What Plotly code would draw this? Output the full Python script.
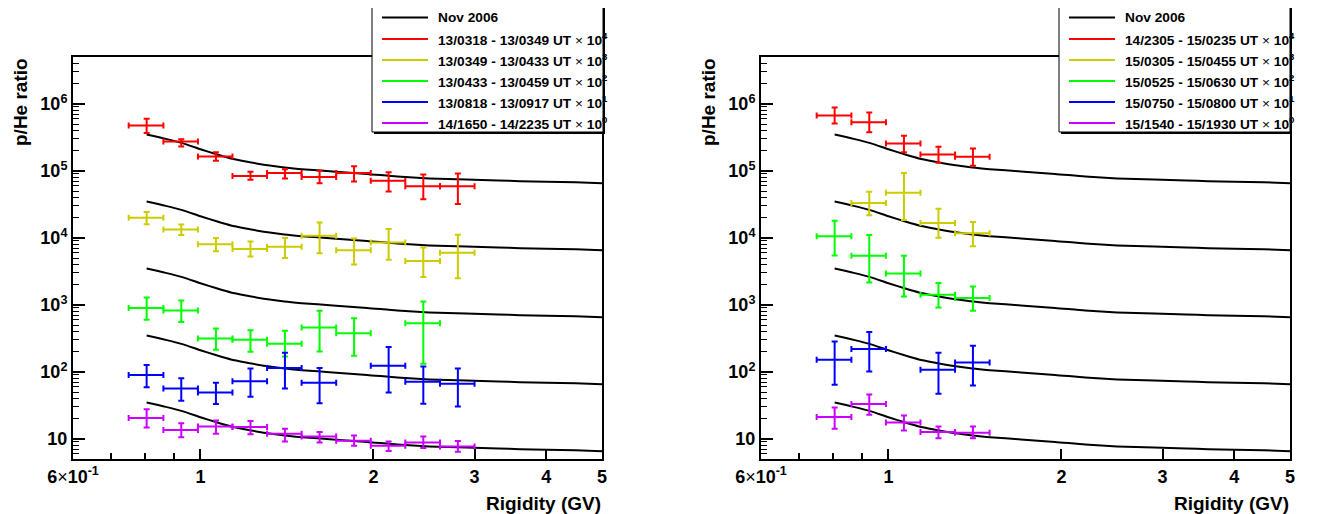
import math
import plotly.graph_objects as go

# page is 1333x514; the html body adds an 8 px margin at top-left
PAGE_W, PAGE_H, BODY_M = 1333, 514, 8
W, H = PAGE_W - BODY_M, PAGE_H - BODY_M

# ---------------- data ----------------
BIN_LO = [0.750, 0.862, 0.990, 1.137, 1.306, 1.500, 1.723, 1.979, 2.273, 2.612]
BIN_HI = [0.862, 0.990, 1.137, 1.306, 1.500, 1.723, 1.979, 2.273, 2.612, 3.000]
BIN_C = [0.806, 0.926, 1.064, 1.222, 1.403, 1.612, 1.851, 2.126, 2.443, 2.806]

# Nov 2006 reference curve (unscaled)
NOV_X = [0.806, 0.87, 0.93, 1.0, 1.07, 1.13, 1.2, 1.3, 1.4, 1.5, 1.7, 1.95, 2.2, 2.5, 2.9, 3.3, 3.6, 4.0, 4.5, 5.0]
NOV_Y = [34.8, 30.0, 25.9, 21.0, 17.5, 15.3, 13.8, 12.2, 11.2, 10.6, 9.8, 9.0, 8.2, 7.7, 7.4, 7.2, 7.0, 6.9, 6.75, 6.55]

SCALES = [1e4, 1e3, 1e2, 1e1, 1e0]
SCALE_EXP = ["4", "3", "2", "1", "0"]
COLORS = ["#ff0000", "#cccc00", "#00ff00", "#0000ff", "#cc00ff"]

# Left panel (unscaled values, upper and lower error limits)
L_LABELS = ["13/0318 - 13/0349 UT", "13/0349 - 13/0433 UT", "13/0433 - 13/0459 UT",
            "13/0818 - 13/0917 UT", "14/1650 - 14/2235 UT"]
L_RED_Y = [47.4, 27.4, 16.3, 8.4, 9.25, 8.06, 9.25, 7.1, 5.9, 5.9]
L_RED_HI = [59.7, 29.6, 19.0, 9.66, 10.6, 10.0, 11.7, 9.55, 8.8, 9.1]
L_RED_LO = [36.6, 23.1, 14.1, 7.35, 7.68, 6.55, 6.92, 4.9, 3.78, 3.2]
L_YEL_Y = [19.9, 13.3, 8.05, 6.8, 7.35, 10.7, 6.5, 8.5, 4.5, 6.0]
L_YEL_HI = [24.4, 15.8, 9.9, 8.8, 9.9, 16.9, 9.8, 13.6, 7.2, 11.1]
L_YEL_LO = [16.0, 11.0, 6.3, 5.25, 5.0, 5.9, 4.0, 4.7, 2.6, 2.5]
L_GRN_Y = [8.93, 8.22, 3.14, 3.0, 2.62, 4.58, 3.78, None, 5.33, None]
L_GRN_HI = [12.85, 11.6, 4.43, 4.19, 4.09, 8.13, 6.31, None, 11.2, None]
L_GRN_LO = [5.97, 5.52, 2.13, 1.99, 1.70, 2.01, 1.74, None, 1.32, None]
L_BLU_Y = [8.93, 5.63, 4.91, 7.26, 11.36, 6.85, None, 12.3, 7.1, 6.62]
L_BLU_HI = [12.7, 8.05, 6.85, 11.2, 19.2, 11.36, None, 23.4, 12.0, 11.2]
L_BLU_LO = [5.9, 3.69, 3.3, 4.24, 5.63, 3.41, None, 4.9, 3.33, 3.03]
L_MAG_Y = [20.5, 13.5, 15.3, 15.0, 11.9, 10.8, 9.4, 7.9, 8.8, 7.7]
L_MAG_HI = [27.7, 17.1, 18.8, 18.4, 14.1, 12.7, 11.2, 9.1, 10.8, 9.3]
L_MAG_LO = [14.8, 10.6, 11.9, 11.7, 9.1, 8.8, 7.9, 6.6, 7.3, 6.4]

# Right panel
R_LABELS = ["14/2305 - 15/0235 UT", "15/0305 - 15/0455 UT", "15/0525 - 15/0630 UT",
            "15/0750 - 15/0800 UT", "15/1540 - 15/1930 UT"]
R_RED_Y = [66.8, 53.3, 25.5, 17.5, 16.2]
R_RED_HI = [88.0, 74.0, 33.3, 22.8, 21.5]
R_RED_LO = [50.8, 37.8, 19.0, 13.2, 11.9]
R_YEL_Y = [None, 33.0, 47.0, 16.7, 11.7]
R_YEL_HI = [None, 48.6, 93.0, 27.1, 17.2]
R_YEL_LO = [None, 21.8, 18.4, 10.0, 7.5]
R_GRN_Y = [106.0, 54.0, 29.3, 14.1, 12.7]
R_GRN_HI = [180.0, 110.0, 54.0, 21.1, 18.7]
R_GRN_LO = [54.5, 21.5, 13.3, 9.12, 8.13]
R_BLU_Y = [15.1, 22.0, None, 10.7, 13.8]
R_BLU_HI = [28.3, 39.2, None, 19.2, 24.5]
R_BLU_LO = [6.4, 10.1, None, 4.7, 6.25]
R_MAG_Y = [21.1, 33.0, 17.5, 12.6, 12.3]
R_MAG_HI = [29.3, 45.8, 22.3, 15.3, 15.3]
R_MAG_LO = [14.1, 22.8, 13.3, 10.2, 10.2]

LEFT_SERIES = [(L_RED_Y, L_RED_HI, L_RED_LO), (L_YEL_Y, L_YEL_HI, L_YEL_LO),
               (L_GRN_Y, L_GRN_HI, L_GRN_LO), (L_BLU_Y, L_BLU_HI, L_BLU_LO),
               (L_MAG_Y, L_MAG_HI, L_MAG_LO)]
RIGHT_SERIES = [(R_RED_Y, R_RED_HI, R_RED_LO), (R_YEL_Y, R_YEL_HI, R_YEL_LO),
                (R_GRN_Y, R_GRN_HI, R_GRN_LO), (R_BLU_Y, R_BLU_HI, R_BLU_LO),
                (R_MAG_Y, R_MAG_HI, R_MAG_LO)]

X_TICKS = [0.6, 1, 2, 3, 4, 5]
X_TICKTEXT = ["<b>6</b>×<b>10<sup>-1</sup></b>", "<b>1</b>", "<b>2</b>", "<b>3</b>", "<b>4</b>", "<b>5</b>"]
X_MINOR = [0.7, 0.8, 0.9]
Y_TICKS = [10, 1e2, 1e3, 1e4, 1e5, 1e6]
Y_TICKTEXT = ["<b>10</b>", "<b>10<sup>2</sup></b>", "<b>10<sup>3</sup></b>",
              "<b>10<sup>4</sup></b>", "<b>10<sup>5</sup></b>", "<b>10<sup>6</sup></b>"]

# ---------------- layout geometry (page pixels) ----------------
PANELS = [
    dict(x0=73, x1=602, leg=(372, 603), labels=L_LABELS, series=LEFT_SERIES, xa="x", ya="y"),
    dict(x0=761, x1=1290, leg=(1059, 1290), labels=R_LABELS, series=RIGHT_SERIES, xa="x2", ya="y2"),
]
PLOT_TOP, PLOT_BOT = 57, 459


def px(x):
    return (x - BODY_M) / W


def py(y):
    return 1 - (y - BODY_M) / H


FONT = "Liberation Sans, Arial, sans-serif"
fig = go.Figure()
shapes = []
annotations = []

for p in PANELS:
    # reference curves
    for k, sc in enumerate(SCALES):
        fig.add_trace(go.Scatter(
            x=NOV_X, y=[v * sc for v in NOV_Y], mode="lines",
            line=dict(color="black", width=2, shape="spline", smoothing=0.6),
            xaxis=p["xa"], yaxis=p["ya"], showlegend=False, hoverinfo="skip"))
    # data points
    for k, (ys, hi, lo) in enumerate(p["series"]):
        sc = SCALES[k]
        xs, yv, ep, em, exp_, exm = [], [], [], [], [], []
        for i, v in enumerate(ys):
            if v is None:
                continue
            xs.append(BIN_C[i])
            yv.append(v * sc)
            ep.append((hi[i] - v) * sc)
            em.append((v - lo[i]) * sc)
            exp_.append(BIN_HI[i] - BIN_C[i])
            exm.append(BIN_C[i] - BIN_LO[i])
        fig.add_trace(go.Scatter(
            x=xs, y=yv, mode="markers", marker=dict(size=1, color=COLORS[k]),
            error_y=dict(type="data", symmetric=False, array=ep, arrayminus=em,
                         color=COLORS[k], thickness=2, width=3),
            error_x=dict(type="data", symmetric=False, array=exp_, arrayminus=exm,
                         color=COLORS[k], thickness=2, width=3),
            xaxis=p["xa"], yaxis=p["ya"], showlegend=False))

    # legend box
    lx0, lx1 = p["leg"]
    ly0, ly1 = 5, 132
    shapes.append(dict(type="rect", xref="paper", yref="paper",
                       x0=px(lx0 + 2), x1=px(lx1 + 2), y0=py(ly1 + 2), y1=py(ly0 + 2),
                       line=dict(width=0), fillcolor="black", layer="above"))
    shapes.append(dict(type="rect", xref="paper", yref="paper",
                       x0=px(lx0), x1=px(lx1), y0=py(ly1), y1=py(ly0),
                       line=dict(width=1, color="black"), fillcolor="white", layer="above"))
    rows_y = [17.5, 39, 60, 81, 102, 123]
    entries = [("black", "<b>Nov 2006</b>")] + [
        (COLORS[k], "<b>%s</b> × <b>10<sup>%s</sup></b>" % (p["labels"][k], SCALE_EXP[k]))
        for k in range(5)]
    for (col, txt), ry in zip(entries, rows_y):
        shapes.append(dict(type="line", xref="paper", yref="paper",
                           x0=px(lx0 + 10), x1=px(lx0 + 56), y0=py(ry), y1=py(ry),
                           line=dict(color=col, width=2), layer="above"))
        annotations.append(dict(xref="paper", yref="paper", x=px(lx0 + 64), y=py(ry),
                                xanchor="left", yanchor="middle", showarrow=False,
                                text=txt, font=dict(family=FONT, size=13.7, color="black")))

    # axis titles
    annotations.append(dict(xref="paper", yref="paper", x=px(p["x1"] + 1), y=py(503),
                            xanchor="right", yanchor="middle", showarrow=False,
                            text="<b>Rigidity (GV)</b>",
                            font=dict(family=FONT, size=19, color="black")))
    annotations.append(dict(xref="paper", yref="paper", x=px(p["x0"] - 53), y=py(102),
                            xanchor="center", yanchor="middle", showarrow=False,
                            textangle=-90, text="<b>p/He ratio</b>",
                            font=dict(family=FONT, size=19, color="black")))

axis_common = dict(showgrid=False, zeroline=False, showline=True, linecolor="black",
                   linewidth=2, mirror=True, ticks="inside", tickcolor="black",
                   automargin=False)

for idx, p in enumerate(PANELS):
    sfx = "" if idx == 0 else str(idx + 1)
    fig.update_layout(**{
        "xaxis" + sfx: dict(
            axis_common, type="log", range=[math.log10(0.6), math.log10(5)],
            domain=[px(p["x0"]), px(p["x1"])], anchor="y" + sfx,
            tickmode="array", tickvals=X_TICKS, ticktext=X_TICKTEXT, ticklen=10, tickwidth=1.5,
            tickfont=dict(family=FONT, size=18, color="black"),
            minor=dict(tickmode="array", tickvals=X_MINOR, ticks="inside", ticklen=6,
                       tickwidth=1.5, tickcolor="black", showgrid=False)),
        "yaxis" + sfx: dict(
            axis_common, type="log", range=[math.log10(5), math.log10(5e6)],
            domain=[py(PLOT_BOT), py(PLOT_TOP)], anchor="x" + sfx,
            tickmode="array", tickvals=Y_TICKS, ticktext=Y_TICKTEXT, ticklen=12, tickwidth=1.5,
            tickfont=dict(family=FONT, size=18, color="black"),
            minor=dict(dtick="D1", ticks="inside", ticklen=6, tickwidth=1,
                       tickcolor="black", showgrid=False)),
    })

fig.update_layout(width=W, height=H, margin=dict(l=0, r=0, t=0, b=0, autoexpand=False),
                  paper_bgcolor="white", plot_bgcolor="white",
                  shapes=shapes, annotations=annotations, showlegend=False)

fig.write_html("out.html")
